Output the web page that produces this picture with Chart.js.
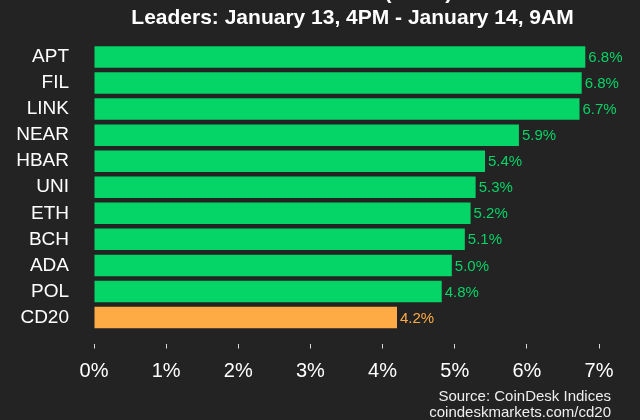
<!DOCTYPE html>
<html>
<head>
<meta charset="utf-8">
<script src="https://cdn.jsdelivr.net/npm/chart.js@4/dist/chart.umd.min.js"></script>
<style>
  html, body { margin: 0; padding: 0; background: #232323; }
  #wrap { width: 640px; height: 420px; position: relative; overflow: hidden; }
</style>
</head>
<body>
<div id="wrap"><canvas id="leaders" width="640" height="420"></canvas></div>
<script>
// CD20 leaders - data
const categories = ['APT', 'FIL', 'LINK', 'NEAR', 'HBAR', 'UNI', 'ETH', 'BCH', 'ADA', 'POL', 'CD20'];
const changes = [6.81, 6.76, 6.73, 5.89, 5.42, 5.29, 5.22, 5.14, 4.96, 4.82, 4.20];
const xTicks = [0, 1, 2, 3, 4, 5, 6, 7];
const titleLines = ['CoinDesk 20 (CD20)', 'Leaders: January 13, 4PM - January 14, 9AM'];
const sourceLines = ['Source: CoinDesk Indices', 'coindeskmarkets.com/cd20'];

const GREEN = '#05d466';
const ORANGE = '#ffab45';
const FONT = "'Liberation Sans', Arial, Helvetica, sans-serif";

const barColors = categories.map(c => c === 'CD20' ? ORANGE : GREEN);

// value labels at the end of each bar
const valueLabels = {
    id: 'valueLabels',
    afterDatasetsDraw(chart) {
        const ctx = chart.ctx;
        const meta = chart.getDatasetMeta(0);
        ctx.save();
        ctx.font = '15px ' + FONT;
        ctx.textAlign = 'left';
        ctx.textBaseline = 'middle';
        meta.data.forEach((bar, i) => {
            ctx.fillStyle = barColors[i];
            ctx.fillText(changes[i].toFixed(1) + '%', bar.x + 3, bar.y + 1);
        });
        ctx.restore();
    }
};

// headline (first line runs off the top) and source note
const headerFooter = {
    id: 'headerFooter',
    afterDraw(chart) {
        const ctx = chart.ctx;
        const area = chart.chartArea;
        const right = area.right + 12;
        const cx = (area.left + right) / 2;
        ctx.save();
        ctx.fillStyle = '#ffffff';
        ctx.textAlign = 'center';
        ctx.textBaseline = 'alphabetic';
        ctx.font = 'bold 21px ' + FONT;
        ctx.fillText(titleLines[0], cx, -1);
        ctx.fillText(titleLines[1], cx, 24);
        ctx.textAlign = 'right';
        ctx.font = '15px ' + FONT;
        ctx.fillStyle = '#eeeeee';
        ctx.fillText(sourceLines[0], right, 401);
        ctx.fillText(sourceLines[1], right, 417);
        ctx.restore();
    }
};

new Chart(document.getElementById('leaders'), {
    type: 'bar',
    data: {
        labels: categories,
        datasets: [{
            data: changes,
            backgroundColor: barColors,
            borderWidth: 0,
            categoryPercentage: 1,
            barPercentage: 0.825
        }]
    },
    options: {
        indexAxis: 'y',
        responsive: false,
        animation: false,
        layout: { padding: { top: 44, right: 41, bottom: 25.5, left: 0 } },
        plugins: {
            legend: { display: false },
            tooltip: { enabled: false }
        },
        scales: {
            x: {
                min: xTicks[0],
                max: xTicks[xTicks.length - 1],
                afterBuildTicks: s => { s.ticks = xTicks.map(v => ({ value: v })); },
                grid: {
                    drawOnChartArea: false,
                    drawTicks: true,
                    tickLength: 18,
                    tickColor: '#dddddd',
                    tickWidth: 1,
                    tickBorderDash: [5, 200],
                    tickBorderDashOffset: 192
                },
                border: { display: false },
                ticks: {
                    color: '#ffffff',
                    font: { size: 20, family: FONT },
                    padding: 11,
                    callback: v => v + '%'
                }
            },
            y: {
                grid: { display: false },
                border: { display: false },
                afterFit: s => { s.width = 94; },
                ticks: {
                    autoSkip: false,
                    color: '#ffffff',
                    font: { size: 19, family: FONT },
                    padding: 17
                }
            }
        }
    },
    plugins: [valueLabels, headerFooter]
});
</script>
</body>
</html>
